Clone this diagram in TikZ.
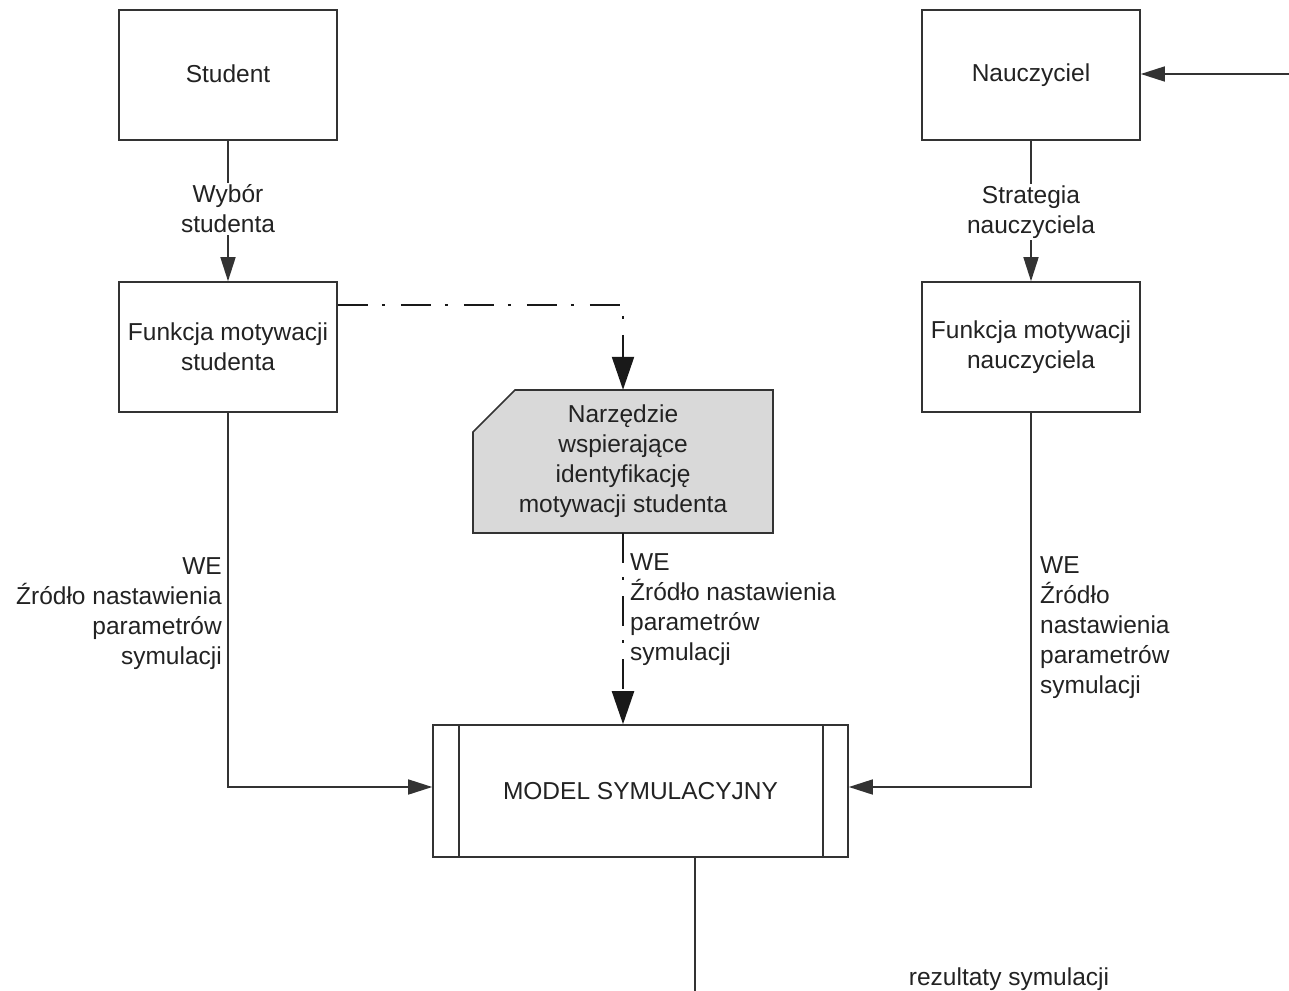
\documentclass[tikz,border=0pt]{standalone}
\usepackage{fontspec}
\setmainfont{Liberation Sans}
\usetikzlibrary{arrows.meta,calc}
\definecolor{ln}{HTML}{333333}
\definecolor{tx}{HTML}{222222}
\definecolor{gfill}{HTML}{D9D9D9}
\begin{document}
\begin{tikzpicture}[x=1pt,y=-1pt,
  every node/.style={text=tx,font=\fontsize{24.5}{30}\selectfont},
  box/.style={draw=ln,line width=1.6pt,minimum width=218pt,minimum height=130pt,align=center,inner sep=0pt},
  ghost/.style={minimum width=300pt,minimum height=143pt,align=center,inner sep=0pt},
  conn/.style={draw=ln,line width=1.6pt,-{Triangle[length=24pt,width=15pt]}},
  plain/.style={draw=ln,line width=1.6pt},
  ddash/.style={draw=black!90,line width=2.2pt,dash pattern=on 30pt off 14pt on 3pt off 16pt,-{Triangle[length=33pt,width=22pt]}},
  lbl/.style={fill=white,inner sep=2pt,align=center}
]
\useasboundingbox (0,0) rectangle (1289,990);

% main boxes
\node[box,text depth=2pt] (s) at (228,75) {Student};
\node[box] (n) at (1031,75) {Nauczyciel};
\node[box] (fs) at (228,347) {Funkcja motywacji\\studenta};
\node[box] (fn) at (1031,347) {Funkcja motywacji\\nauczyciela};

% tool box with cut corner
\fill[gfill] (473,432) -- (515,390) -- (773,390) -- (773,533) -- (473,533) -- cycle;
\draw[ln,line width=1.6pt] (473,432) -- (515,390) -- (773,390) -- (773,533) -- (473,533) -- cycle;
\node[ghost] (nz) at (623,461.5) {Narzędzie\\wspierające\\identyfikację\\motywacji studenta};

% simulation model
\node[box,minimum width=415pt,minimum height=132pt] (m) at (640.5,791) {MODEL SYMULACYJNY};
\draw[ln,line width=1.6pt] ($(m.north west)+(27,0)$) -- ($(m.south west)+(27,0)$);
\draw[ln,line width=1.6pt] ($(m.north east)+(-26,0)$) -- ($(m.south east)+(-26,0)$);

% connectors
\draw[conn] (s) -- (fs);
\node[lbl] (ws) at (228,209) {Wybór\\studenta};
\draw[conn] (n) -- (fn);
\node[lbl] (sn) at (1031,212) {Strategia\\nauczyciela};

\coordinate (rin) at (1289,74);
\draw[conn] (rin) -- (n.east |- rin);

\draw[ddash] ([yshift=42pt]fs.east) -| (nz.north);
\draw[ddash] (nz.south) -- (nz.south |- m.north);

\draw[conn] (fs.south) |- ([yshift=4pt]m.west);
\draw[conn] (fn.south) |- ([yshift=4pt]m.east);

\coordinate (o1) at (695,991.3);
\coordinate (o2) at (1289,991.3);
\draw[plain] (m.south -| o1) -- (o1) -- (o2);

% labels
\node[anchor=east,align=right,inner sep=0pt] (ll) at (222,614) {WE\\Źródło nastawienia\\parametrów\\symulacji};
\node[anchor=west,align=left,inner sep=0pt] (ml) at (630,610) {WE\\Źródło nastawienia\\parametrów\\symulacji};
\node[anchor=west,align=left,inner sep=0pt] (rl) at (1040,628) {WE\\Źródło\\nastawienia\\parametrów\\symulacji};
\node[anchor=base,inner sep=0pt] (rs) at (1009,985) {rezultaty symulacji};
\end{tikzpicture}
\end{document}
